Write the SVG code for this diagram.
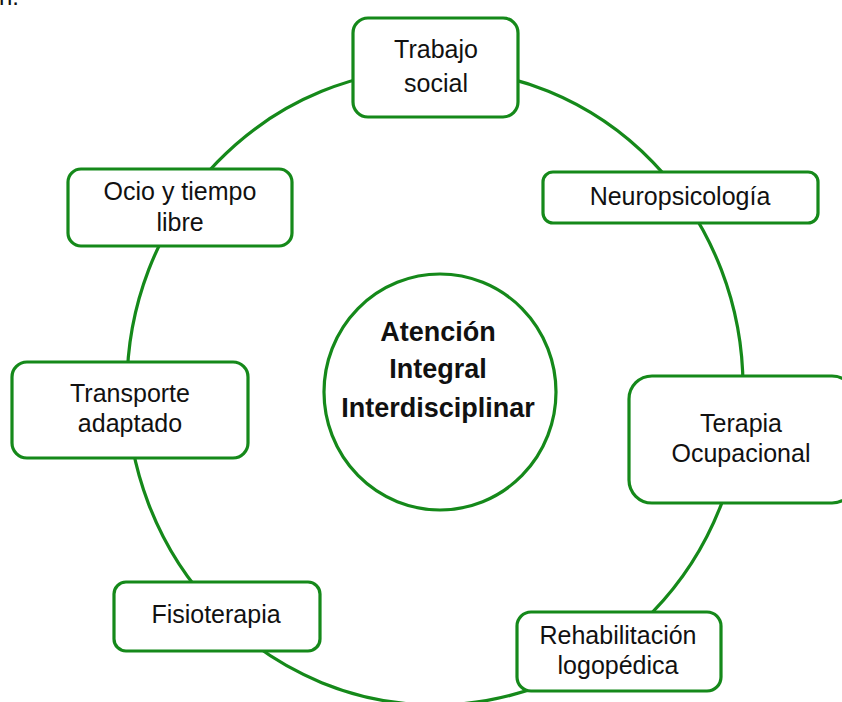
<svg xmlns="http://www.w3.org/2000/svg" width="842" height="702" viewBox="0 0 842 702">
<style>
.box{fill:#fff;stroke:#15891a;stroke-width:3.2}
.ring{fill:none;stroke:#15891a;stroke-width:3.2}
.t{font-family:"Liberation Sans",Arial,sans-serif;font-size:25px;fill:#111;text-anchor:middle}
.c{font-family:"Liberation Sans",Arial,sans-serif;font-size:27px;font-weight:bold;fill:#111;text-anchor:middle}
</style>
<rect width="842" height="702" fill="#fff"/>
<text x="-1" y="5" font-family="Liberation Sans, Arial, sans-serif" font-size="24" fill="#111">n.</text>
<g id="connectors">
<ellipse class="ring" cx="435" cy="387" rx="308" ry="318"/>
</g>
<g id="center">
<ellipse class="box" cx="440" cy="392" rx="116" ry="118"/>
<text class="c" x="438" y="341">Atención</text>
<text class="c" x="438" y="378">Integral</text>
<text class="c" x="438" y="417">Interdisciplinar</text>
</g>
<g id="trabajo">
<rect class="box" x="353" y="18" width="165" height="99" rx="15"/>
<text class="t" x="436" y="58">Trabajo</text>
<text class="t" x="436" y="92">social</text>
</g>
<g id="neuro">
<rect class="box" x="543" y="172" width="275" height="51" rx="10"/>
<text class="t" x="680" y="205">Neuropsicología</text>
</g>
<g id="terapia">
<rect class="box" x="629" y="376" width="226" height="127" rx="23"/>
<text class="t" x="741" y="432">Terapia</text>
<text class="t" x="741" y="462">Ocupacional</text>
</g>
<g id="rehab">
<rect class="box" x="517" y="612" width="204" height="79" rx="14"/>
<text class="t" x="618" y="644">Rehabilitación</text>
<text class="t" x="618" y="674">logopédica</text>
</g>
<g id="fisio">
<rect class="box" x="114" y="582" width="206" height="69" rx="12"/>
<text class="t" x="216" y="623">Fisioterapia</text>
</g>
<g id="transporte">
<rect class="box" x="12" y="362" width="236" height="96" rx="15"/>
<text class="t" x="130" y="402">Transporte</text>
<text class="t" x="130" y="432">adaptado</text>
</g>
<g id="ocio">
<rect class="box" x="68" y="169" width="224" height="77" rx="13"/>
<text class="t" x="180" y="200">Ocio y tiempo</text>
<text class="t" x="180" y="231">libre</text>
</g>
</svg>
